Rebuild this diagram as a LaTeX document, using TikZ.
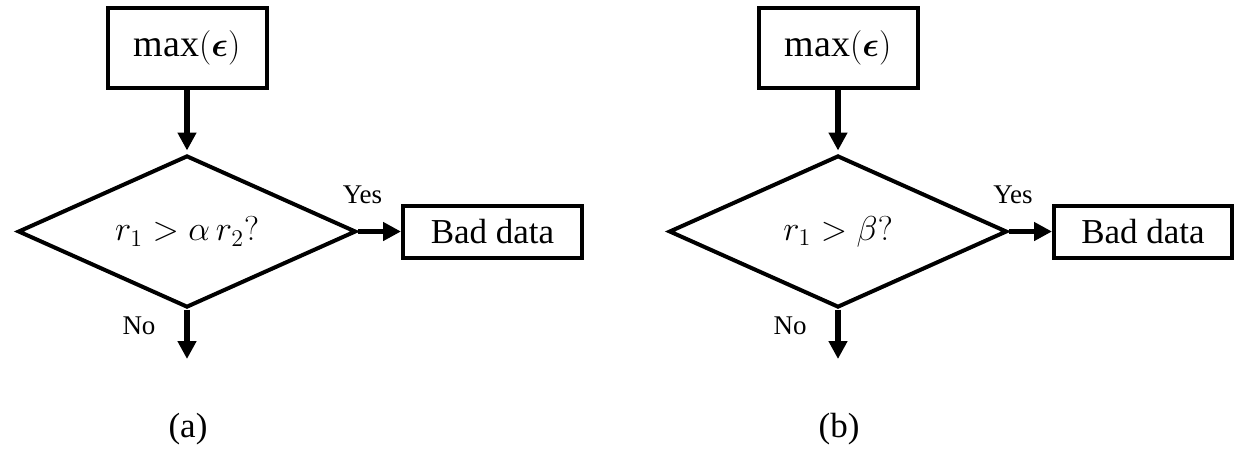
\documentclass[tikz,border=0pt]{standalone}
\usepackage{amsmath,amssymb}
\usepackage{fontspec}
\setmainfont{Liberation Serif}
\usetikzlibrary{shapes.geometric,arrows.meta}
\begin{document}
\begin{tikzpicture}[x=0.5pt,y=-0.5pt,
  box/.style={draw, line width=2pt, inner sep=0pt, font=\fontsize{17.5}{21}\selectfont},
  topbox/.style={box, minimum width=79.5pt, minimum height=40pt, font=\fontsize{19}{23}\selectfont},
  dec/.style={draw, diamond, aspect=2.2, line width=2pt, inner sep=0pt,
              minimum width=169pt, minimum height=76pt, font=\fontsize{18}{22}\selectfont},
  flow/.style={line width=2.8pt, -{Triangle[length=9pt,width=9pt]}},
  lab/.style={font=\fontsize{13.5}{16}\selectfont, inner sep=0pt},
  captionlbl/.style={font=\fontsize{17.5}{21}\selectfont, inner sep=0pt}]
\useasboundingbox (0,0) rectangle (1235,451);

% ---- panel (a)
\node[topbox] (atop) at (187,48) {$\max(\boldsymbol{\epsilon})$};
\node[dec] (adec) at (187,231.5) {$r_1 > \alpha\, r_2?$};
\node[box, minimum width=89.5pt, minimum height=26pt] (abad) at (492.5,231.5) {Bad data};
\coordinate (aend) at (187,359);
\draw[flow, shorten >=1.5pt] (atop.south) -- (adec.north);
\draw[flow] (adec.east) -- (abad.west);
\draw[flow] (adec.south) -- (aend);
\node[lab] (ayes) at (362.5,195) {Yes};
\node[lab] (ano) at (139,326) {No};
\node[captionlbl] (acap) at (188,429) {(a)};

% ---- panel (b)
\node[topbox] (btop) at (838,48) {$\max(\boldsymbol{\epsilon})$};
\node[dec] (bdec) at (838,231.5) {$r_1 > \beta?$};
\node[box, minimum width=89pt, minimum height=26pt] (bbad) at (1143,231.5) {Bad data};
\coordinate (bend) at (838,359);
\draw[flow, shorten >=1.5pt] (btop.south) -- (bdec.north);
\draw[flow] (bdec.east) -- (bbad.west);
\draw[flow] (bdec.south) -- (bend);
\node[lab] (byes) at (1013,195) {Yes};
\node[lab] (bno) at (790,326) {No};
\node[captionlbl] (bcap) at (839,429) {(b)};
\end{tikzpicture}
\end{document}
